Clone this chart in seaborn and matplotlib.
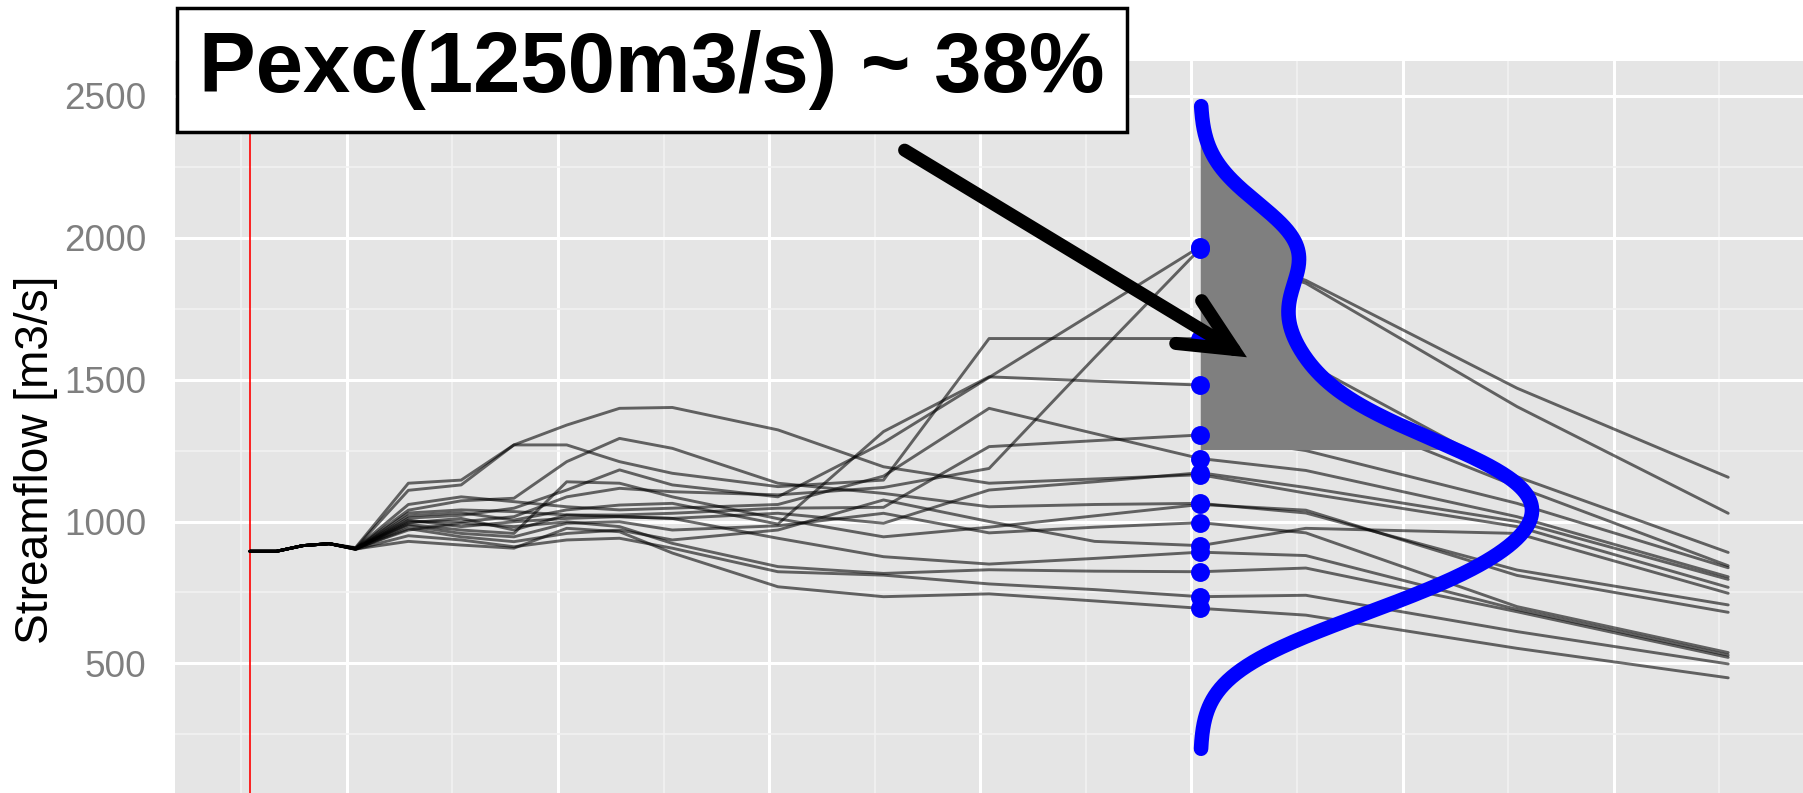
import numpy as np
import pandas as pd
import matplotlib
matplotlib.use("Agg")
import matplotlib.pyplot as plt
import seaborn as sns

# Forecast lead time of each step [h]; 0 = forecast issue time
hours = [0, 3, 6, 9, 12, 18, 24, 30, 36, 42, 48, 60, 72, 84, 96, 108, 120, 144, 168]

# Ensemble members: streamflow [m3/s] at each lead time
m01 = [895, 895, 915, 922, 904, 1012, 1022, 1047, 1111, 1182, 1129, 1087, 1278, 1508, 1738, 1969, 1850, 1470, 1156]
m02 = [895, 895, 915, 922, 903, 1000, 999, 1017, 1087, 1117, 1105, 1094, 1120, 1187, 1578, 1962, 1840, 1405, 1029]
m03 = [895, 895, 915, 922, 906, 1110, 1129, 1270, 1270, 1211, 1170, 1123, 1146, 1645, 1645, 1645, 1560, 1158, 891]
m04 = [895, 895, 915, 922, 902, 1020, 1031, 1005, 1041, 1058, 1064, 991, 1317, 1510, 1495, 1481, 1420, 1123, 844]
m05 = [895, 895, 915, 922, 904, 1030, 1041, 1035, 1023, 1023, 1029, 1047, 1050, 1264, 1285, 1305, 1250, 1064, 837]
m06 = [895, 895, 915, 922, 905, 1060, 1087, 1070, 1052, 1041, 1047, 1060, 1160, 1399, 1310, 1222, 1180, 1017, 805]
m07 = [895, 895, 915, 922, 903, 1005, 982, 999, 1011, 1017, 1011, 1029, 994, 1111, 1140, 1172, 1120, 1000, 796]
m08 = [895, 895, 915, 922, 908, 1135, 1146, 1270, 1340, 1399, 1402, 1323, 1193, 1135, 1150, 1165, 1100, 982, 768]
m09 = [895, 895, 915, 922, 905, 1040, 1073, 1082, 1211, 1293, 1258, 1135, 1099, 1052, 1060, 1064, 1030, 829, 706]
m10 = [895, 895, 915, 922, 906, 990, 970, 958, 1140, 1135, 1087, 1010, 946, 980, 1020, 1060, 1040, 810, 680]
m11 = [895, 895, 915, 922, 902, 985, 958, 946, 994, 999, 970, 985, 1029, 960, 980, 996, 960, 700, 538]
m12 = [895, 895, 915, 922, 904, 975, 946, 929, 958, 970, 935, 970, 1076, 1000, 930, 915, 976, 958, 747]
m13 = [895, 895, 915, 922, 904, 995, 1011, 970, 1023, 1017, 1011, 941, 876, 850, 870, 892, 880, 690, 529]
m14 = [895, 895, 915, 922, 905, 970, 994, 982, 999, 982, 923, 841, 817, 830, 825, 823, 836, 682, 521]
m15 = [895, 895, 915, 922, 902, 950, 935, 911, 935, 941, 906, 823, 811, 780, 760, 735, 740, 612, 498]
m16 = [895, 895, 915, 922, 903, 930, 917, 906, 976, 964, 889, 770, 735, 745, 720, 694, 670, 553, 449]

members = [m01, m02, m03, m04, m05, m06, m07, m08,
           m09, m10, m11, m12, m13, m14, m15, m16]

lead_sel = 108          # lead time at which the distribution is shown [h]
threshold = 1250        # flood threshold [m3/s]
bandwidth = 165         # kernel bandwidth [m3/s]
label_text = "Pexc(1250m3/s) ~ 38%"
yticks_major = [0, 500, 1000, 1500, 2000, 2500]
yticks_minor = [250, 750, 1250, 1750, 2250]

# ---------------------------------------------------------------------------
sns.set_theme(style="darkgrid")
plt.rcParams["font.family"] = ["Liberation Sans", "DejaVu Sans"]

rows = []
for i, vals in enumerate(members):
    for h, q in zip(hours, vals):
        rows.append({"member": f"m{i + 1:02d}", "hour": h, "flow": q})
df = pd.DataFrame(rows)
sel = df[df["hour"] == lead_sel]["flow"].to_numpy(dtype=float)

W, H = 1803, 793
fig = plt.figure(figsize=(W / 100, H / 100), dpi=100)
ax = fig.add_axes([175 / W, (793 - 859) / H, (W - 175) / W, (859 - 61) / H])
ax.set_facecolor("#E5E5E5")
for s in ax.spines.values():
    s.set_visible(False)

# ensemble traces
ax.axvline(0, color="red", lw=1.2, zorder=2)
sns.lineplot(data=df, x="hour", y="flow", units="member", estimator=None,
             color="black", alpha=0.58, linewidth=2.1, legend=False,
             ax=ax, zorder=3)

# kernel density of the members at the selected lead time, drawn sideways
grid = np.linspace(sel.min() - 3 * bandwidth, sel.max() + 3 * bandwidth, 512)
dens = np.exp(-0.5 * ((grid[:, None] - sel[None, :]) / bandwidth) ** 2).sum(axis=1)
dens /= len(sel) * bandwidth * np.sqrt(2 * np.pi)
curve_width_h = 37.7
xd = lead_sel + dens * curve_width_h / dens.max()
above = grid >= threshold
ax.fill_betweenx(grid[above], lead_sel, xd[above], color="#7F7F7F",
                 linewidth=0, zorder=4)
ax.plot(xd, grid, color="blue", lw=10.5, solid_capstyle="round", zorder=5)
sns.scatterplot(x=np.full(len(sel), lead_sel), y=sel, color="blue", s=185,
                linewidth=0, ax=ax, zorder=6)

# annotation
ax.annotate("", xy=(113.3, 1579), xytext=(74.4, 2309),
            arrowprops=dict(arrowstyle="->,head_length=38,head_width=18",
                            mutation_scale=1, lw=9.4, color="black",
                            shrinkA=0, shrinkB=0, capstyle="round",
                            joinstyle="miter"),
            zorder=7)
fig.text(652 / W, 1 - 70 / H, label_text, ha="center", va="center",
         fontsize=61.2, fontweight="bold", color="black",
         bbox=dict(boxstyle="square,pad=0.26", fc="white", ec="black", lw=2.5),
         zorder=8)

# ticks and grid (limits are set afterwards so ticks cannot widen them)
ax.set_xticks([11 + 24 * k for k in range(7)])
ax.set_xticks([-1 + 24 * k for k in range(8)], minor=True)
ax.set_yticks(yticks_major)
ax.set_yticks(yticks_minor, minor=True)
ax.set_xlim(-8.52, 176.5)
ax.set_ylim(-189.6, 2623.3)
ax.set_axisbelow(True)
ax.grid(which="major", color="white", lw=2.2)
ax.grid(which="minor", color="#F2F2F2", lw=1.15)
ax.tick_params(axis="x", which="both", length=0, labelbottom=False)
ax.tick_params(axis="y", which="major", length=12.2, width=2.4,
               color="#7F7F7F", labelsize=26.6, labelcolor="#7F7F7F", pad=8.6)
ax.tick_params(axis="y", which="minor", length=0)
ax.set_xlabel("")
ax.set_ylabel("Streamflow [m3/s]", fontsize=33.1, color="black")
ax.yaxis.set_label_coords((58 - 175) / (W - 175), 0.5)

fig.savefig("out.png", dpi=100)
